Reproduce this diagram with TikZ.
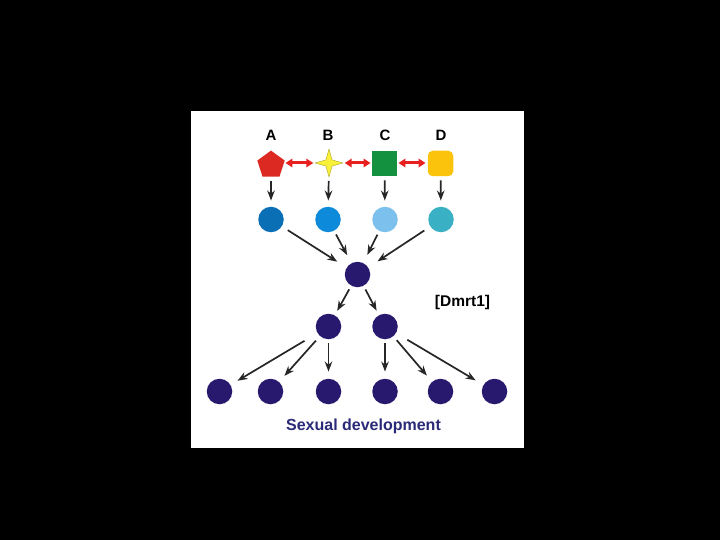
\documentclass[tikz,border=0pt]{standalone}
\usepackage{fontspec}
\setmainfont{Liberation Sans}
\usetikzlibrary{shapes.geometric,arrows.meta}
\definecolor{navy}{HTML}{28186E}
\definecolor{navytext}{HTML}{2B2A78}
\definecolor{redA}{HTML}{DC2A22}
\definecolor{yelB}{HTML}{F9F03A}
\definecolor{grnC}{HTML}{14913F}
\definecolor{orgD}{HTML}{FCC30C}
\definecolor{blA}{HTML}{0A6FB5}
\definecolor{blB}{HTML}{0D8AD9}
\definecolor{blC}{HTML}{7CC0EE}
\definecolor{blD}{HTML}{3AB0C5}
\definecolor{arrred}{HTML}{E8201F}
\begin{document}
\begin{tikzpicture}[x=1pt,y=-1pt,
  lab/.style={font=\bfseries\fontsize{15}{15}\selectfont},
  dot/.style={circle,minimum size=25.5pt,inner sep=0pt},
  arr/.style={-{Stealth[length=10pt,width=7.5pt]},line width=1.7pt,black!85},
  redarr/.style={{Triangle[length=7pt,width=8.5pt]}-{Triangle[length=7pt,width=8.5pt]},arrred,line width=3pt}]
\fill[black] (0,0) rectangle (720,540);
\fill[white] (191,111) rectangle (524,448);
% labels
\node[lab] (la) at (271,135.5) {A};
\node[lab] (lb) at (328,135.5) {B};
\node[lab] (lc) at (385,135.5) {C};
\node[lab] (ld) at (441,135.5) {D};
% shapes
\node[regular polygon,regular polygon sides=5,minimum size=28.8pt,inner sep=0pt,fill=redA] (pa) at (271,165) {};
\node[star,star points=4,star point ratio=3.2,minimum size=28pt,inner sep=0pt,fill=yelB,draw=yelB!70!black,line width=0.4pt] (pb) at (329,163) {};
\node[rectangle,minimum size=25.5pt,inner sep=0pt,fill=grnC] (pc) at (384.5,163.5) {};
\node[rectangle,rounded corners=5pt,minimum size=25.5pt,inner sep=0pt,fill=orgD] (pd) at (440.5,163.5) {};
% red double arrows
\draw[redarr,shorten <=2pt,shorten >=1pt] (pa.east |- pb.center) -- (pb.west);
\draw[redarr,shorten <=1pt,shorten >=1pt] (pb.east) -- (pc.west |- pb.center);
\draw[redarr,shorten <=1pt,shorten >=2pt] (pc.east |- pb.center) -- (pd.west |- pb.center);
% blue circles
\node[dot,fill=blA] (ba) at (271,219.5) {};
\node[dot,fill=blB] (bb) at (328,219.5) {};
\node[dot,fill=blC] (bc) at (385,219.5) {};
\node[dot,fill=blD] (bd) at (441,219.5) {};
% center
\node[dot,fill=navy] (m) at (357.5,274.5) {};
\node[dot,fill=navy] (m1) at (328.5,326.5) {};
\node[dot,fill=navy] (m2) at (385,326.5) {};
% bottom
\node[dot,fill=navy] (o1) at (219.5,391.5) {};
\node[dot,fill=navy] (o2) at (270.5,391.5) {};
\node[dot,fill=navy] (o3) at (328.5,391.5) {};
\node[dot,fill=navy] (o4) at (385,391.5) {};
\node[dot,fill=navy] (o5) at (440.5,391.5) {};
\node[dot,fill=navy] (o6) at (494.5,391.5) {};
% texts
\node[font=\bfseries\fontsize{15.5}{15.5}\selectfont] (dm) at (462.5,302) {[Dmrt1]};
\node[font=\bfseries\fontsize{16}{16}\selectfont,text=navytext] (sd) at (363.5,426) {Sexual development};
% arrows shape->blue
\foreach \s/\t in {pa/ba,pb/bb,pc/bc,pd/bd}
  \draw[arr,shorten <=4pt,shorten >=6pt] (\s) -- (\t);
% blue -> center
\draw[arr,shorten <=7pt,shorten >=11pt] (ba) -- (m);
\draw[arr,shorten <=4pt,shorten >=9pt] (bb) -- (m);
\draw[arr,shorten <=4pt,shorten >=9pt] (bc) -- (m);
\draw[arr,shorten <=7pt,shorten >=11pt] (bd) -- (m);
% center -> second row
\draw[arr,shorten <=4pt,shorten >=5pt] (m) -- (m1);
\draw[arr,shorten <=4pt,shorten >=5pt] (m) -- (m2);
% second row -> bottom
\draw[arr,shorten <=15pt,shorten >=8pt] (m1) -- (o1);
\draw[arr,shorten <=6pt,shorten >=8pt] (m1) -- (o2);
\draw[arr,shorten <=4pt,shorten >=7pt] (m1) -- (o3);
\draw[arr,shorten <=4pt,shorten >=7pt] (m2) -- (o4);
\draw[arr,shorten <=5pt,shorten >=8pt] (m2) -- (o5);
\draw[arr,shorten <=13pt,shorten >=9pt] (m2) -- (o6);
\end{tikzpicture}
\end{document}
